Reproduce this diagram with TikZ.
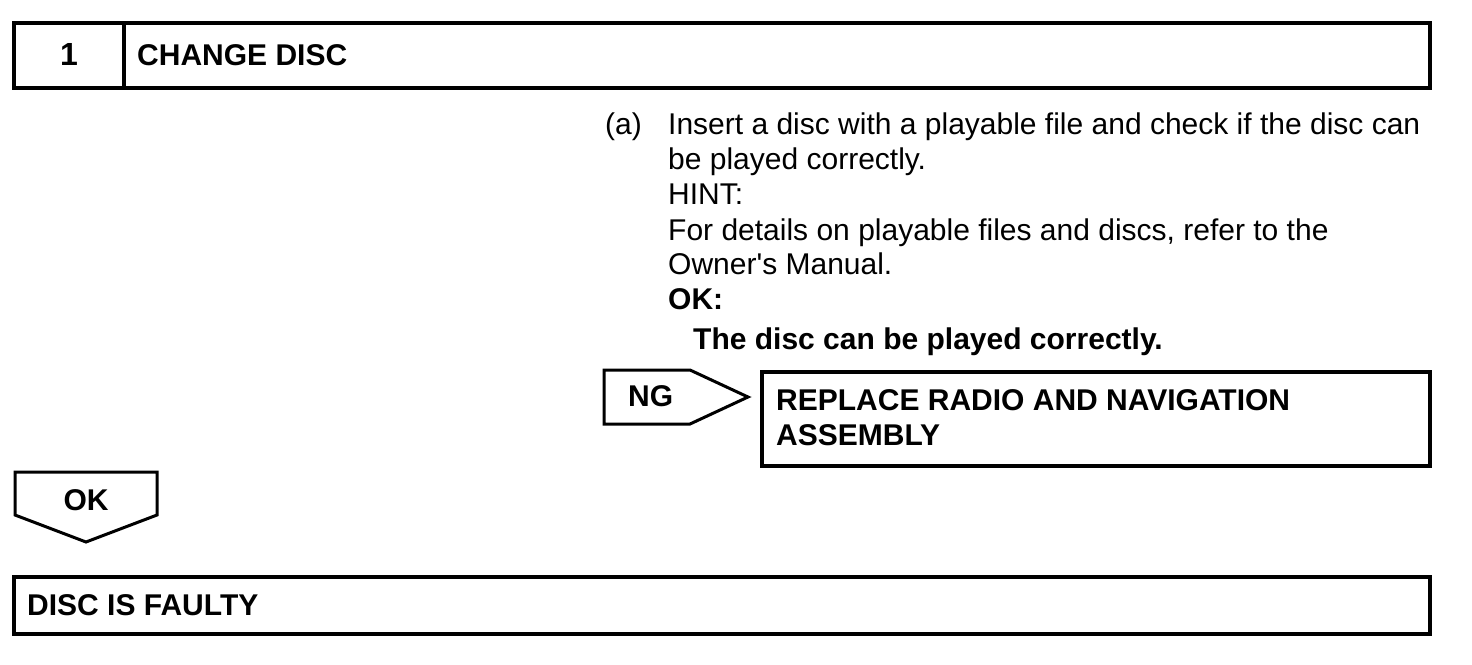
\documentclass[tikz,border=0pt]{standalone}
\usepackage{fontspec}
\setmainfont{Liberation Sans}
\begin{document}
\begin{tikzpicture}[x=1pt,y=-1pt,
  heavy/.style={draw, line width=4pt},
  light/.style={draw, line width=3pt, line join=miter},
  txt/.style={anchor=base west, inner sep=0pt, font=\fontsize{30}{35}\selectfont},
  btxt/.style={anchor=base west, inner sep=0pt, font=\fontsize{30}{35}\selectfont\bfseries}]
\useasboundingbox (0,0) rectangle (1472,664);
% header
\draw[heavy] (14,22.5) rectangle (1430,87.5);
\draw[heavy] (124,22.5) -- (124,87.5);
\node[btxt, anchor=base, font=\fontsize{32}{35}\selectfont\bfseries] (num) at (69,65) {1};
\node[btxt] (title) at (137,65) {CHANGE DISC};
% instructions
\node[txt] (a) at (605,134) {(a)};
\node[txt] (l1) at (668,134) {Insert a disc with a playable file and check if the disc can};
\node[txt] (l2) at (668,169) {be played correctly.};
\node[txt] (l3) at (668,204) {HINT:};
\node[txt] (l4) at (668,240) {For details on playable files and discs, refer to the};
\node[txt] (l5) at (668,274) {Owner\textquotesingle s Manual.};
\node[btxt] (l6) at (668,309) {OK:};
\node[btxt] (l7) at (693,349) {The disc can be played correctly.};
% NG arrow
\draw[light] (604,370) -- (690,370) -- (748,397) -- (690,424) -- (604,424) -- cycle;
\node[btxt] (ng) at (628,406) {NG};
% replace box
\draw[heavy] (762,372) rectangle (1430,466);
\node[btxt] (r1) at (776,410) {REPLACE RADIO AND NAVIGATION};
\node[btxt] (r2) at (776,445) {ASSEMBLY};
% OK arrow
\draw[light] (15,472) -- (157,472) -- (157,515) -- (86,542) -- (15,515) -- cycle;
\node[btxt, anchor=base] (ok) at (86,510) {OK};
% result box
\draw[heavy] (14,577) rectangle (1430,634);
\node[btxt] (res) at (27,615) {DISC IS FAULTY};
\end{tikzpicture}
\end{document}
